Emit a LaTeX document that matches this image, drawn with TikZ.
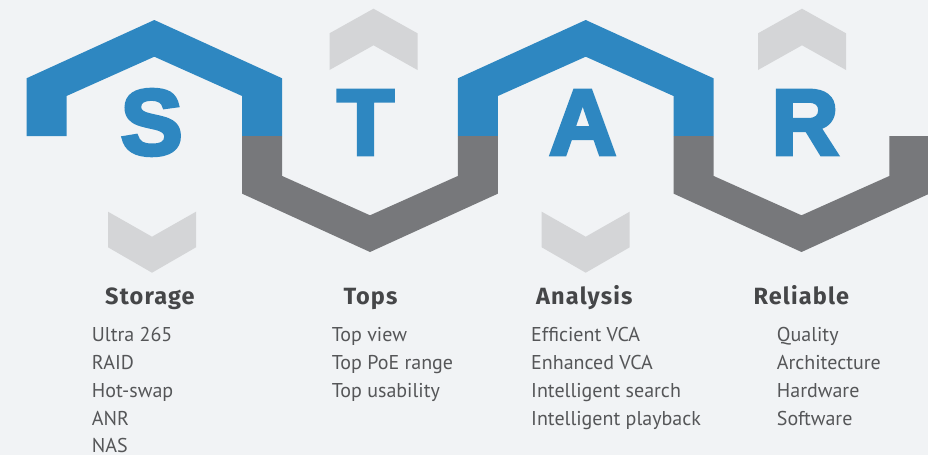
\documentclass[tikz,border=0pt]{standalone}
\usepackage{fontspec}
\setmainfont{PT Sans}
\newfontfamily\letterfont[UprightFont={* Bold}, UprightFeatures={FakeBold=4}]{Liberation Sans}
\newfontfamily\headfont[LetterSpace=5]{Fira Sans}
\definecolor{bgc}{RGB}{241,243,245}
\definecolor{starblue}{RGB}{46,135,193}
\definecolor{bandgray}{RGB}{119,120,123}
\definecolor{chevgray}{RGB}{212,213,215}
\definecolor{headc}{RGB}{69,70,72}
\definecolor{itemc}{RGB}{85,86,88}
\tikzset{
  bigletter/.style={anchor=base, inner sep=0pt, text=starblue, font=\letterfont\fontsize{93}{93}\selectfont},
  heading/.style={anchor=base west, inner sep=0pt, text=headc, font=\headfont\bfseries\fontsize{23.5}{24}\selectfont},
  item/.style={anchor=base west, inner sep=0pt, text=itemc, font=\fontsize{20}{20}\selectfont},
  bluehex/.style={fill=starblue},
  grayhex/.style={fill=bandgray},
  chevron/.style={fill=chevgray}
}
\begin{document}
\begin{tikzpicture}[x=1pt,y=-1pt]
\useasboundingbox (0,0) rectangle (928,455);
\fill[bgc] (0,0) rectangle (928,455);
\begin{scope}
\clip (0,0) rectangle (928,455);
% blue hexagon tops
\foreach \cx in {154.3,585.7}{
  \fill[bluehex] (\cx-127.8,136) -- (\cx-127.8,78.3) -- (\cx,20) -- (\cx+127.8,78.3) -- (\cx+127.8,136)
    -- (\cx+87.8,136) -- (\cx+87.8,96) -- (\cx,56.7) -- (\cx-87.8,96) -- (\cx-87.8,136) -- cycle;
}
% gray hexagon bottoms
\foreach \cx in {370,801.5}{
  \fill[grayhex] (\cx-127.8,136) -- (\cx-127.8,193.7) -- (\cx,252) -- (\cx+127.8,193.7) -- (\cx+127.8,136)
    -- (\cx+87.8,136) -- (\cx+87.8,176) -- (\cx,215.3) -- (\cx-87.8,176) -- (\cx-87.8,136) -- cycle;
}
\end{scope}
% down chevrons
\foreach \cx in {152,585.7}{
  \fill[chevron] (\cx-44,211.7) -- (\cx,236.7) -- (\cx+44,211.7) -- (\cx+44,247.3) -- (\cx,272.7) -- (\cx-44,247.3) -- cycle;
}
% up chevrons
\foreach \cx in {373.5,802}{
  \fill[chevron] (\cx-44,70) -- (\cx,45.3) -- (\cx+44,70) -- (\cx+44,33.3) -- (\cx,8.7) -- (\cx-44,33.3) -- cycle;
}
% letters
\node[bigletter] (ls) at (151.7,154.5) {S};
\node[bigletter] (lt) at (365.5,154.5) {T};
\node[bigletter] (la) at (582.7,154.5) {A};
\node[bigletter] (lr) at (805,154.5) {R};
% headings
\node[heading] (h1) at (105,304.3) {Storage};
\node[heading] (h2) at (343.3,304.3) {Tops};
\node[heading] (h3) at (536,304.3) {Analysis};
\node[heading] (h4) at (753.3,304.3) {Reliable};
% items
\node[item] (s1) at (91.7,341.7) {Ultra 265};
\node[item] (s2) at (91.7,369.5) {RAID};
\node[item] (s3) at (91.7,397.3) {Hot-swap};
\node[item] (s4) at (91.7,425) {ANR};
\node[item] (s5) at (91.7,452.5) {NAS};
\node[item] (t1) at (331.7,341.7) {Top view};
\node[item] (t2) at (331.7,369.5) {Top PoE range};
\node[item] (t3) at (331.7,397.3) {Top usability};
\node[item] (a1) at (531,341.7) {Efficient VCA};
\node[item] (a2) at (531,369.5) {Enhanced VCA};
\node[item] (a3) at (531,397.3) {Intelligent search};
\node[item] (a4) at (531,425) {Intelligent playback};
\node[item] (r1) at (776.7,341.7) {Quality};
\node[item] (r2) at (776.7,369.5) {Architecture};
\node[item] (r3) at (776.7,397.3) {Hardware};
\node[item] (r4) at (776.7,425) {Software};
\end{tikzpicture}
\end{document}
